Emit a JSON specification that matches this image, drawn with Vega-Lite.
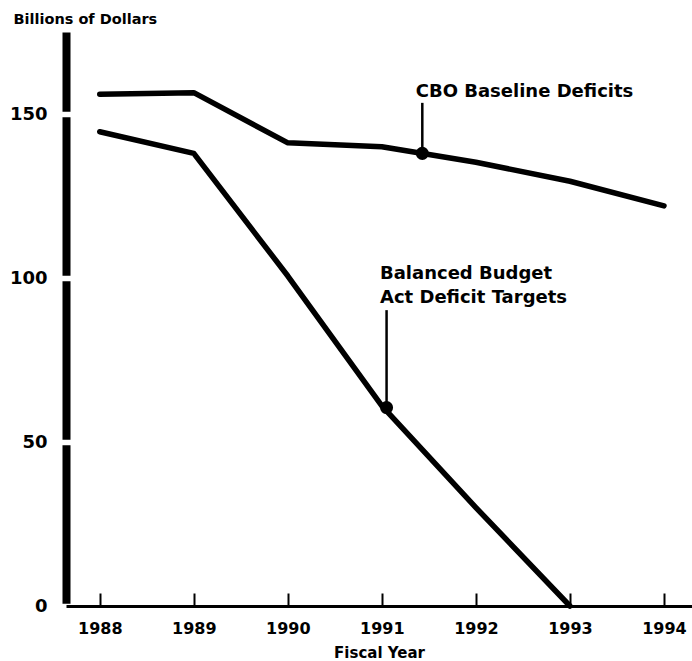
{
  "$schema": "https://vega.github.io/schema/vega-lite/v6.json",
  "width": 626,
  "height": 574,
  "autosize": {"type": "none"},
  "padding": {"left": 66, "top": 32, "right": 0, "bottom": 55},
  "background": "white",
  "config": {"view": {"stroke": null}, "font": "DejaVu Sans", "axis": {"grid": false}},
  "datasets": {
    "series": [
      {"year": 1988, "value": 156.0, "series": "CBO Baseline Deficits"},
      {"year": 1989, "value": 156.5, "series": "CBO Baseline Deficits"},
      {"year": 1990, "value": 141.2, "series": "CBO Baseline Deficits"},
      {"year": 1991, "value": 140.0, "series": "CBO Baseline Deficits"},
      {"year": 1992, "value": 135.3, "series": "CBO Baseline Deficits"},
      {"year": 1993, "value": 129.5, "series": "CBO Baseline Deficits"},
      {"year": 1994, "value": 122.0, "series": "CBO Baseline Deficits"},
      {"year": 1988, "value": 144.6, "series": "Balanced Budget Act Deficit Targets"},
      {"year": 1989, "value": 138.0, "series": "Balanced Budget Act Deficit Targets"},
      {"year": 1990, "value": 100.6, "series": "Balanced Budget Act Deficit Targets"},
      {"year": 1991, "value": 61.0, "series": "Balanced Budget Act Deficit Targets"},
      {"year": 1992, "value": 30.0, "series": "Balanced Budget Act Deficit Targets"},
      {"year": 1993, "value": 0.0, "series": "Balanced Budget Act Deficit Targets"}
    ],
    "notes": [
      {"label": "CBO Baseline Deficits", "year": 1991.43, "value": 138.0, "top": 153.4, "tyear": 1991.36, "tvalue": 155.2},
      {"label": "Balanced Budget\nAct Deficit Targets", "year": 1991.05, "value": 60.5, "top": 90.2, "tyear": 1990.98, "tvalue": 99.7}
    ]
  },
  "layer": [
    {
      "data": {"name": "series"},
      "mark": {"type": "line", "color": "black", "strokeWidth": 5.5, "strokeCap": "round", "strokeJoin": "round"},
      "encoding": {
        "x": {
          "field": "year", "type": "quantitative", "title": "Fiscal Year",
          "scale": {"domain": [1987.641, 1994.298], "nice": false, "zero": false},
          "axis": {
            "values": [1988, 1989, 1990, 1991, 1992, 1993, 1994], "format": "d",
            "domainColor": "black", "domainWidth": 3,
            "tickColor": "black", "tickWidth": 2, "tickSize": -13,
            "labelFont": "DejaVu Sans", "labelFontSize": 16, "labelFontWeight": "bold", "labelColor": "black", "labelPadding": 27,
            "titleFont": "DejaVu Sans", "titleFontSize": 15, "titleFontWeight": "bold", "titleColor": "black",
            "titleBaseline": "alphabetic", "titleY": 51
          }
        },
        "y": {
          "field": "value", "type": "quantitative", "title": "Billions of Dollars",
          "scale": {"domain": [0, 175], "nice": false},
          "axis": {
            "values": [0, 50, 100, 150],
            "domainColor": "black", "domainWidth": 8, "domainDash": [158.5, 5.5], "domainDashOffset": 161.2,
            "ticks": false,
            "labelFont": "DejaVu Sans", "labelFontSize": 18, "labelFontWeight": "bold", "labelColor": "black", "labelPadding": 19,
            "titleFont": "DejaVu Sans", "titleFontSize": 14.5, "titleFontWeight": "bold", "titleColor": "black",
            "titleAngle": 0, "titleAlign": "left", "titleBaseline": "alphabetic", "titleX": -53, "titleY": -9
          }
        },
        "detail": {"field": "series", "type": "nominal"}
      }
    },
    {
      "mark": {"type": "rule", "color": "black", "strokeWidth": 3},
      "encoding": {
        "y": {"datum": 175, "type": "quantitative", "title": "Billions of Dollars", "scale": {"domain": [0, 175], "nice": false}}
      }
    },
    {
      "data": {"name": "notes"},
      "mark": {"type": "rule", "color": "black", "strokeWidth": 2.5},
      "encoding": {
        "x": {"field": "year", "type": "quantitative", "title": "Fiscal Year", "scale": {"domain": [1987.641, 1994.298], "nice": false, "zero": false}},
        "y": {"field": "value", "type": "quantitative", "title": "Billions of Dollars", "scale": {"domain": [0, 175], "nice": false}},
        "y2": {"field": "top"}
      }
    },
    {
      "data": {"name": "notes"},
      "mark": {"type": "point", "filled": true, "color": "black", "opacity": 1, "size": 170},
      "encoding": {
        "x": {"field": "year", "type": "quantitative", "title": "Fiscal Year", "scale": {"domain": [1987.641, 1994.298], "nice": false, "zero": false}},
        "y": {"field": "value", "type": "quantitative", "title": "Billions of Dollars", "scale": {"domain": [0, 175], "nice": false}}
      }
    },
    {
      "data": {"name": "notes"},
      "mark": {"type": "text", "align": "left", "baseline": "alphabetic", "font": "DejaVu Sans", "fontWeight": "bold", "fontSize": 18, "color": "black", "lineBreak": "\n", "lineHeight": 24},
      "encoding": {
        "x": {"field": "tyear", "type": "quantitative", "title": "Fiscal Year", "scale": {"domain": [1987.641, 1994.298], "nice": false, "zero": false}},
        "y": {"field": "tvalue", "type": "quantitative", "title": "Billions of Dollars", "scale": {"domain": [0, 175], "nice": false}},
        "text": {"field": "label", "type": "nominal"}
      }
    }
  ]
}
